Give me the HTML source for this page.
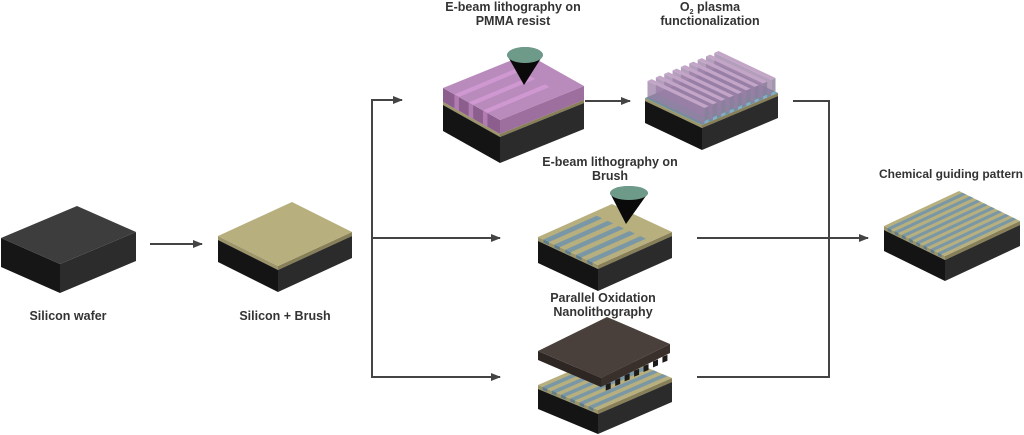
<!DOCTYPE html>
<html><head><meta charset="utf-8"><style>
html,body{margin:0;padding:0;background:#fff;width:1024px;height:435px;overflow:hidden}
svg text{font-family:"Liberation Sans",sans-serif;font-weight:bold;font-size:12.5px;fill:#333;text-anchor:middle}
</style></head><body>
<svg id="s" width="1024" height="435" xmlns="http://www.w3.org/2000/svg">
<defs><marker id="a" markerWidth="10" markerHeight="8" refX="9" refY="4" orient="auto" markerUnits="userSpaceOnUse"><path d="M0,0 L10,4 L0,8 z" fill="#444"/></marker></defs>
<g stroke="#444" stroke-width="2" fill="none">
<line x1="150" y1="244" x2="202" y2="244" marker-end="url(#a)"/>
<polyline points="402,100 372,100 372,377 500,377" />
<line x1="372" y1="100" x2="402" y2="100" marker-end="url(#a)"/>
<line x1="490" y1="377" x2="500" y2="377" marker-end="url(#a)"/>
<line x1="372" y1="238" x2="500" y2="238" marker-end="url(#a)"/>
<line x1="585" y1="101" x2="630" y2="101" marker-end="url(#a)"/>
<polyline points="793,101 829,101 829,377 697,377"/>
<line x1="697" y1="238" x2="868" y2="238" marker-end="url(#a)"/>
</g>
<g id="blocks"></g>
<text x="513" y="11">E-beam lithography on</text><text x="513" y="25">PMMA resist</text>
<text x="710" y="11">O<tspan font-size="7" dy="3">2</tspan><tspan dy="-3"> plasma</tspan></text><text x="710" y="25">functionalization</text>
<text x="610" y="166">E-beam lithography on</text><text x="610" y="180">Brush</text>
<text x="603" y="302">Parallel Oxidation</text><text x="603" y="316">Nanolithography</text>
<text x="951" y="178" style="font-size:12px">Chemical guiding pattern</text>
<text x="68" y="320">Silicon wafer</text><text x="285" y="320">Silicon + Brush</text>
</svg>
<script>
var g=document.getElementById('blocks'),NS="http://www.w3.org/2000/svg";
function P(pts,fill,op){var p=document.createElementNS(NS,'polygon');p.setAttribute('points',pts.map(function(q){return q[0]+','+q[1]}).join(' '));p.setAttribute('fill',fill);if(op)p.setAttribute('fill-opacity',op);g.appendChild(p);}
function E(cx,cy,rx,ry,f){var e=document.createElementNS(NS,'ellipse');e.setAttribute('cx',cx);e.setAttribute('cy',cy);e.setAttribute('rx',rx);e.setAttribute('ry',ry);e.setAttribute('fill',f);g.appendChild(e);}
function lerp(a,b,t){return[a[0]+(b[0]-a[0])*t,a[1]+(b[1]-a[1])*t]}
function sh(p,d){return[p[0],p[1]+d]}
function block(L,F,R,top,layers,stripes,sfrac){
 var B=[L[0]+R[0]-F[0],L[1]+R[1]-F[1]];
 var y=0;
 layers.forEach(function(ly){
  P([sh(L,y),sh(F,y),sh(F,y+ly[0]),sh(L,y+ly[0])],ly[1]);
  P([sh(F,y),sh(R,y),sh(R,y+ly[0]),sh(F,y+ly[0])],ly[2]);
  y+=ly[0];});
 P([L,B,R,F],top);
 if(stripes){var n=stripes,f=sfrac||1;
  for(var i=0;i<n;i++){var t0=(i+0.5)/(n+0.5),t1=(i+1)/(n+0.5);
   var a=lerp(L,F,t0),b=lerp(L,F,t1),c=lerp(B,R,t1),d=lerp(B,R,t0);
   c=lerp(b,c,f);d=lerp(a,d,f);
   P([a,b,c,d],'#7a97a6');
   P([a,b,sh(b,3),sh(a,3)],'#5f7d8c');}
 }
 return B;}
var blk=['#141414','#2b2b2b'],br=['#9c956a','#877f58'];
block([1,238],[60,264],[136,232],'#3d3d3d',[[29,'#161616','#2c2c2c']]);
block([218,236],[278,266],[352,232],'#b7af7e',[[4,br[0],br[1]],[22,blk[0],blk[1]]]);
block([538,237],[598,265],[672,232],'#b7af7e',[[4,br[0],br[1]],[22,blk[0],blk[1]]],5,0.72);
E(629,193,19,7,'#6e9a8a');P([[610,193],[648,193],[626,224]],'#0a0a0a');E(629,193,19,7,'#6e9a8a');
block([884,226],[945,256],[1020,221],'#b7af7e',[[4,br[0],br[1]],[21,blk[0],blk[1]]],8);
block([538,385],[598,410],[672,378],'#b7af7e',[[4,br[0],br[1]],[20,blk[0],blk[1]]],6);
(function(){var L=[538,351],F=[601,378],R=[670,344];
 P([L,F,sh(F,9),sh(L,9)],'#2d2622');P([F,R,sh(R,9),sh(F,9)],'#3a302b');
 for(var i=0;i<7;i++){var p=lerp(F,R,(i+0.5)/7.3);P([sh(p,9),[p[0]+5,p[1]+7],[p[0]+5,p[1]+13],[p[0],p[1]+15]],'#1e1a17');}
 P([L,[L[0]+R[0]-F[0],L[1]+R[1]-F[1]],R,F],'#4a403b');})();
block([443,88],[500,120],[584,86],'#b98bbd',[[14,'#8b5e8d','#9c6f9e'],[3,br[0],br[1]],[26,blk[0],blk[1]]]);
(function(){var L=[443,88],F=[500,120];
 for(var i=0;i<3;i++){var a=lerp(L,F,0.2+i*0.25),b=lerp(L,F,0.28+i*0.25);P([a,b,[b[0]+62,b[1]-26],[a[0]+62,a[1]-26]],'#cf98d0');P([a,b,sh(b,14),sh(a,14)],'#b07cb2');}})();
E(525,55,18,8,'#6e9a8a');P([[507,55],[543,55],[524,85]],'#0a0a0a');E(525,55,18,8,'#6e9a8a');
(function(){var L=[645,98],F=[702,125],R=[778,93];var B=[L[0]+R[0]-F[0],L[1]+R[1]-F[1]];
 block(L,F,R,'#6f8f9c',[[3,br[0],br[1]],[22,blk[0],blk[1]]]);
 var n=9,h=16,w=0.055;
 for(var i=n-1;i>=0;i--){var t=(i+0.3)/(n+0.1);
  var a=lerp(L,B,t),b=lerp(L,B,t+w),c=lerp(F,R,t+w),d=lerp(F,R,t);
  P([a,d,sh(d,-h),sh(a,-h)],'#9a7ea6','0.75');
  P([d,c,sh(c,-h),sh(d,-h)],'#8a7f9a','0.8');
  P([sh(a,-h),sh(b,-h),sh(c,-h),sh(d,-h)],'#c3a5c8');
  P([d,c,[c[0],c[1]-3],[d[0],d[1]-3]],'#7fb0c8');
 }})();
</script>
</body></html>
